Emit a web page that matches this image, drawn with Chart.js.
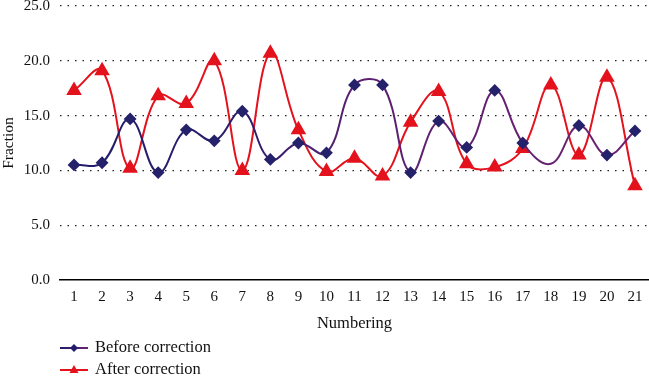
<!DOCTYPE html>
<html>
<head>
<meta charset="utf-8">
<script src="https://cdn.jsdelivr.net/npm/chart.js@4/dist/chart.umd.min.js"></script>
<style>
html,body{margin:0;padding:0;background:#fff;}
#wrap{width:649px;height:376px;position:relative;}
</style>
</head>
<body>
<div id="wrap"><canvas id="c" width="649" height="376"></canvas></div>
<script>
const categories = ['1','2','3','4','5','6','7','8','9','10','11','12','13','14','15','16','17','18','19','20','21'];
const beforeValues = [10.5,10.7,14.7,9.8,13.7,12.7,15.4,11.0,12.5,11.6,17.8,17.8,9.8,14.5,12.1,17.3,12.5,10.6,14.1,11.4,13.6];
const afterValues = [17.3,19.1,10.2,16.8,16.1,20.0,10.0,20.7,13.7,9.9,11.1,9.5,14.4,17.2,10.6,10.3,12.0,17.8,11.4,18.5,8.6];
const yTicks = [0,5,10,15,20,25];
const seriesNames = ['Before correction','After correction'];
const xTitle = 'Numbering';
const yTitle = 'Fraction';

const FONT = "'Liberation Serif', 'Times New Roman', serif";
const NAVY = '#1f1d6c';
const PURPLE = '#6d2272';
const RED = '#e3121d';

function beforeGradient(ctx){
  const chart = ctx.chart;
  const a = chart.chartArea;
  if(!a) return NAVY;
  const g = chart.ctx.createLinearGradient(a.left,0,a.right,0);
  g.addColorStop(0, NAVY);
  g.addColorStop(0.3, '#2c1d6c');
  g.addColorStop(0.5, '#5a2070');
  g.addColorStop(1, PURPLE);
  return g;
}

const legendPlugin = {
  id: 'customLegend',
  afterDraw(chart){
    const c = chart.ctx;
    const a = chart.chartArea;
    const ds = chart.data.datasets;
    const x0 = a.left;
    const rows = [a.bottom + 68, a.bottom + 90];
    c.save();
    ds.forEach((d, i) => {
      const y = rows[i];
      if(i === 0){
        const g = c.createLinearGradient(x0,0,x0+28,0);
        g.addColorStop(0, NAVY); g.addColorStop(1, PURPLE);
        c.strokeStyle = g;
      } else c.strokeStyle = RED;
      c.lineWidth = 2;
      c.beginPath(); c.moveTo(x0, y); c.lineTo(x0+28, y); c.stroke();
      c.fillStyle = i===0 ? NAVY : RED;
      c.beginPath();
      if(i===0){
        c.moveTo(x0+14,y-4);c.lineTo(x0+18,y);c.lineTo(x0+14,y+4);c.lineTo(x0+10,y);
      } else {
        c.moveTo(x0+14,y-5);c.lineTo(x0+18.5,y+3);c.lineTo(x0+9.5,y+3);
      }
      c.closePath(); c.fill();
      c.fillStyle = '#111';
      c.font = '16.5px ' + FONT;
      c.textBaseline = 'middle';
      c.textAlign = 'left';
      c.fillText(d.label, x0 + 35, y);
    });
    c.restore();
  }
};

new Chart(document.getElementById('c'), {
  type: 'line',
  data: {
    labels: categories,
    datasets: [
      {
        label: seriesNames[0],
        data: beforeValues,
        borderColor: beforeGradient,
        backgroundColor: '#25216a',
        pointBackgroundColor: '#25216a',
        pointBorderColor: '#25216a',
        pointStyle: 'rectRot',
        pointRadius: beforeValues.map((v,i) => i === 17 ? 0 : 5),
        pointHoverRadius: 5,
        borderWidth: 2,
        tension: 0.4,
        fill: false,
        order: 1
      },
      {
        label: seriesNames[1],
        data: afterValues,
        borderColor: RED,
        backgroundColor: RED,
        pointBackgroundColor: RED,
        pointBorderColor: RED,
        pointStyle: 'triangle',
        pointRadius: 7,
        pointHoverRadius: 7,
        borderWidth: 2,
        tension: 0.4,
        fill: false,
        clip: 10,
        order: 2
      }
    ]
  },
  options: {
    responsive: false,
    animation: false,
    devicePixelRatio: 1,
    layout: { autoPadding: false, padding: { left: 0, right: 0, top: 6, bottom: 42 } },
    plugins: {
      legend: { display: false },
      tooltip: { enabled: false }
    },
    scales: {
      x: {
        type: 'category',
        offset: true,
        grid: { display: false, drawTicks: false },
        border: { display: true, color: '#000', width: 1.5 },
        ticks: { color: '#111', font: { family: FONT, size: 15 }, padding: 8, maxRotation: 0, autoSkip: false },
        title: { display: true, text: xTitle, color: '#111', font: { family: FONT, size: 16.5 }, padding: { top: 9, bottom: 0 } },
        afterFit(scale){ scale.height = 54; scale.paddingLeft = 0; scale.paddingRight = 0; }
      },
      y: {
        min: 0,
        max: 25,
        afterBuildTicks(scale){ scale.ticks = yTicks.map(v => ({value: v})); },
        grid: {
          color: (ctx) => ctx.tick && ctx.tick.value === 0 ? 'rgba(0,0,0,0)' : '#222',
          lineWidth: 1.2,
          drawTicks: false
        },
        border: { display: false, dash: [1.5,6] },
        ticks: { color: '#111', font: { family: FONT, size: 15 }, padding: 10, callback: (v) => Number(v).toFixed(1) },
        title: { display: true, text: yTitle, color: '#111', font: { family: FONT, size: 15.5 }, padding: { top: 0, bottom: 2 } },
        afterFit(scale){ scale.width = 60; scale.paddingTop = 0; scale.paddingBottom = 0; }
      }
    }
  },
  plugins: [legendPlugin]
});
</script>
</body>
</html>
